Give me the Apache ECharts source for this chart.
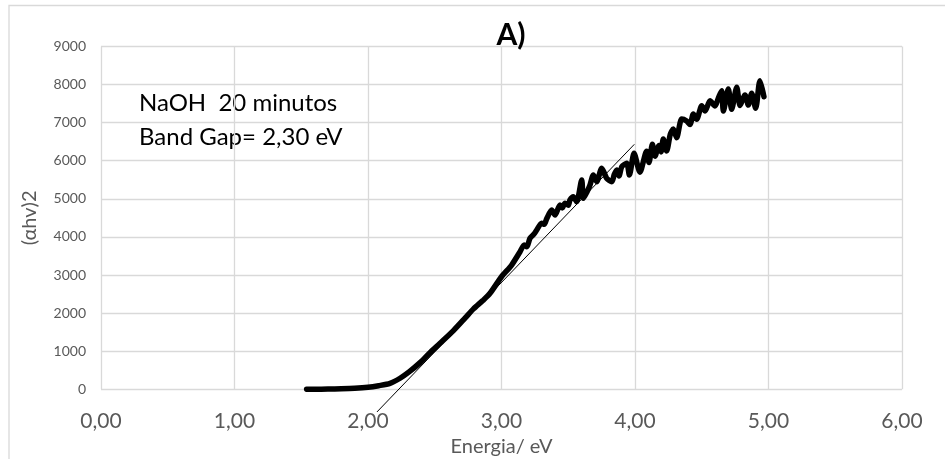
<!DOCTYPE html>
<html>
<head>
<meta charset="utf-8">
<script src="https://cdn.jsdelivr.net/npm/echarts@6/dist/echarts.min.js"></script>
<style>
html,body{margin:0;padding:0;background:#fff;}
#chart{width:945px;height:459px;}
</style>
</head>
<body>
<div id="chart"></div>
<script>
// Energy (eV) and (αhv)^2 values
const energy = [
  1.54, 1.60, 1.70, 1.80, 1.90, 2.00, 2.08, 2.165, 2.24, 2.31, 2.39, 2.46, 2.54, 2.64, 2.73, 2.79, 2.86, 2.914, 3.00, 3.076, 3.139, 3.17, 3.19, 3.213, 3.24, 3.264, 3.30,
  3.32, 3.339, 3.376, 3.401, 3.438, 3.455, 3.476, 3.50, 3.513, 3.538, 3.563, 3.601, 3.613, 3.64, 3.663, 3.688, 3.713, 3.751, 3.788, 3.826, 3.845, 3.863, 3.88, 3.901, 3.938, 3.958, 3.993, 4.037, 4.087, 4.105,
  4.13, 4.15, 4.18, 4.195, 4.212, 4.237, 4.265, 4.287, 4.312, 4.35, 4.387, 4.412, 4.437, 4.462, 4.50, 4.525, 4.562, 4.599, 4.625, 4.649, 4.662, 4.699, 4.724, 4.762, 4.787, 4.824, 4.849, 4.874, 4.904, 4.936, 4.966
];
const absorb = [
  0, 2, 5, 12, 25, 52, 95, 157, 290, 462, 700, 945, 1207, 1540, 1880, 2110, 2330, 2520, 2955, 3262, 3612, 3790, 3740, 3963, 4060, 4181, 4360,
  4330, 4480, 4706, 4575, 4837, 4760, 4882, 4830, 4969, 5055, 4924, 5493, 5013, 5180, 5362, 5625, 5449, 5800, 5538, 5449, 5640, 5756, 5600, 5843, 5932, 5625, 6194, 5700, 6250, 5950,
  6430, 6120, 6400, 6230, 6570, 6255, 6700, 6832, 6604, 7094, 7042, 6950, 7226, 7087, 7444, 7304, 7575, 7436, 7650, 7837, 7304, 7882, 7349, 7926, 7450, 7724, 7462, 7769, 7375, 8100, 7680
];
// Tangent (band-gap extrapolation) line endpoints
const tangentX = [2.067, 3.995];
const tangentY = [-595, 6430];

const xTicks = [0, 1, 2, 3, 4, 5, 6];
const yTicks = [0, 1000, 2000, 3000, 4000, 5000, 6000, 7000, 8000, 9000];

const titleText = 'A)';
const xName = 'Energia/ eV';
const yName = '(\u03b1hv)2';
const note1 = 'NaOH  20 minutos';
const note2 = 'Band Gap= 2,30 eV';

const curve = energy.map((e, i) => [e, absorb[i]]);
const tangent = tangentX.map((e, i) => [e, tangentY[i]]);

const FONT = 'Lato, "Open Sans", sans-serif';
const grid = '#d9d9d9';

const chart = echarts.init(document.getElementById('chart'), null, {renderer: 'canvas'});
chart.setOption({
  animation: false,
  backgroundColor: '#fff',
  title: {
    text: titleText,
    left: 506, top: 30, textAlign: 'center', textVerticalAlign: 'middle',
    textStyle: {fontFamily: FONT, fontSize: 30, fontWeight: 'bold', color: '#000'}
  },
  grid: {left: 101, right: 43, top: 46.4, bottom: 69.7, containLabel: false, outerBoundsMode: 'none'},
  xAxis: {
    type: 'value', min: xTicks[0], max: xTicks[xTicks.length - 1], interval: 1,
    name: xName, nameLocation: 'middle', nameGap: 46,
    nameTextStyle: {fontFamily: FONT, fontSize: 20, color: '#595959'},
    axisLine: {show: false}, axisTick: {show: false},
    axisLabel: {margin: 21, fontFamily: FONT, fontSize: 21, color: '#595959',
      formatter: v => v.toFixed(2).replace('.', ',')},
    splitLine: {show: true, lineStyle: {color: grid, width: 1.3}}
  },
  yAxis: {
    type: 'value', min: yTicks[0], max: yTicks[yTicks.length - 1], interval: 1000,
    name: yName, nameLocation: 'middle', nameGap: 61, nameRotate: 90,
    nameTextStyle: {fontFamily: FONT, fontSize: 20, color: '#595959'},
    axisLine: {show: false}, axisTick: {show: false},
    axisLabel: {margin: 15, fontFamily: FONT, fontSize: 14, color: '#595959',
      formatter: v => String(v)},
    splitLine: {show: true, lineStyle: {color: grid, width: 1.3}}
  },
  graphic: [
    {type: 'rect', silent: true, z: -1, shape: {x: 9, y: 5.5, width: 1200, height: 1200},
      style: {fill: 'none', stroke: grid, lineWidth: 1.3}},
    {type: 'text', left: 139, top: 91, style: {text: note1, font: '24px ' + FONT, fill: '#000'}},
    {type: 'text', left: 139, top: 125, style: {text: note2, font: '24px ' + FONT, fill: '#000'}}
  ],
  series: [
    {type: 'line', data: curve, symbol: 'none', smooth: 0.25,
      lineStyle: {color: '#000', width: 5.5, cap: 'round', join: 'round'}, z: 3},
    {type: 'line', data: tangent, symbol: 'none', clip: false,
      lineStyle: {color: '#000', width: 1}, z: 4}
  ]
});
</script>
</body>
</html>
